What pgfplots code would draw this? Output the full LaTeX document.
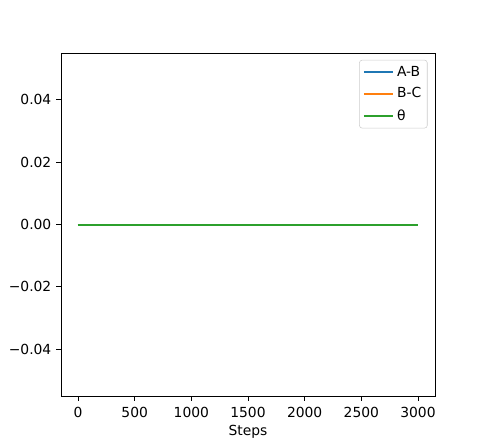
\documentclass[border=0pt]{standalone}
\usepackage{pgfplots}
\pgfplotsset{compat=1.18}
\usepackage{fontspec}
\setmainfont{DejaVu Sans}
\definecolor{tabblue}{HTML}{1F77B4}
\definecolor{taborange}{HTML}{FF7F0E}
\definecolor{tabgreen}{HTML}{2CA02C}
\begin{document}
\fontsize{10.4}{12.5}\selectfont
\begin{tikzpicture}
\path[use as bounding box] (-45.75pt,-35.25pt) rectangle (316.5pt,297pt);
\begin{axis}[
  at={(0,0)}, anchor=south west,
  scale only axis,
  width=280.5pt, height=257.25pt,
  xmin=-150, xmax=3150,
  ymin=-0.055, ymax=0.055,
  xtick={0,500,1000,1500,2000,2500,3000},
  ytick={-0.04,-0.02,0,0.02,0.04},
  yticklabels={−0.04,−0.02,0.00,0.02,0.04},
  /pgf/number format/assume math mode=true,
  scaled ticks=false,
  xticklabel style={/pgf/number format/1000 sep={}, yshift=-1pt},
  tick align=outside,
  tick pos=left,
  major tick length=3.6pt,
  tick style={black, line width=0.6pt},
  axis line style={line width=0.6pt},
  xlabel={Steps},
  xlabel style={yshift=1pt},
  legend style={at={(rel axis cs:0.98,0.98)}, anchor=north east,
    draw=black!20, rounded corners=2pt, fill=white, fill opacity=0.8, text opacity=1,
    font=\fontsize{10.4}{12.5}\selectfont, row sep=3pt, inner sep=2.5pt,
    nodes={inner sep=2pt}},
  legend cell align=left,
  legend image code/.code={\draw[#1] (0cm,0cm) -- (0.78cm,0cm);},
]
\addplot[tabblue, line width=1.5pt] coordinates {(0,0) (3000,0)};
\addlegendentry{A-B}
\addplot[taborange, line width=1.5pt] coordinates {(0,0) (3000,0)};
\addlegendentry{B-C}
\addplot[tabgreen, line width=1.5pt] coordinates {(0,0) (3000,0)};
\addlegendentry{θ}
\end{axis}
\end{tikzpicture}
\end{document}
